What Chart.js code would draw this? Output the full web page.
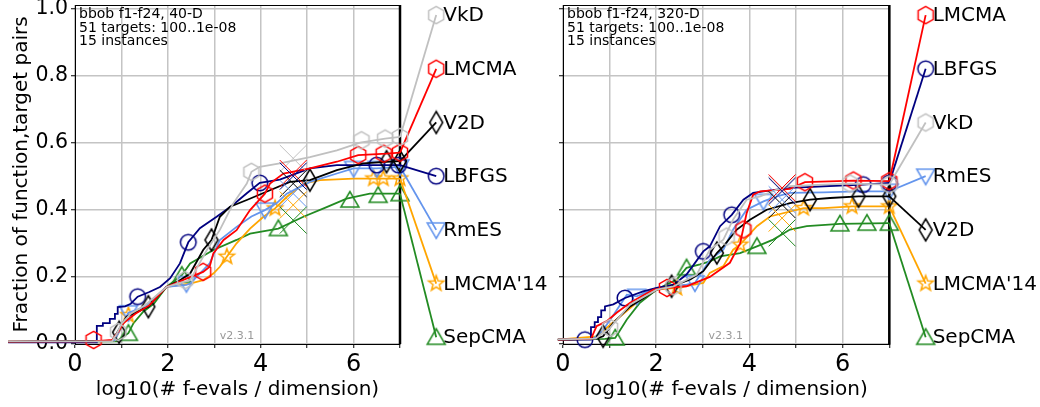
<!DOCTYPE html>
<html>
<head>
<meta charset="utf-8">
<script src="https://cdn.jsdelivr.net/npm/chart.js@4.4.1/dist/chart.umd.min.js"></script>
<style>
    html, body { margin: 0; padding: 0; background: #fff; }
    #wrap { position: relative; width: 1040px; height: 407px; overflow: hidden; }
    canvas { position: absolute; top: 0; }
    #c40 { left: 0; z-index: 2; }
    #c320 { left: 520px; z-index: 1; }
</style>
</head>
<body>
<div id="wrap">
    <canvas id="c40" width="560" height="407"></canvas>
    <canvas id="c320" width="520" height="407"></canvas>
</div>
<script>
const FONT = 'DejaVu Sans';

// algorithms, in a fixed order
const algNames = ['VkD', 'LMCMA', 'V2D', 'LBFGS', 'RmES', "LMCMA'14", 'SepCMA'];
const algColors = ['#c0c0c0', '#ff0000', '#000000', '#000080', '#6495ed', '#ffa500', '#228b22'];
const algMarkers = ['hexagon', 'hexagon', 'thinDiamond', 'circle', 'triangleDown', 'star', 'triangleUp'];

const xTickValues = [0, 1, 2, 3, 4, 5, 6, 7];
const yTickValues = [0, 0.2, 0.4, 0.6, 0.8, 1.0];

// label slots on the right of each panel (top to bottom)
const labelSlotY = [0.98, 0.82, 0.66, 0.5, 0.34, 0.18, 0.02];
const labelOrder40 = ['VkD', 'LMCMA', 'V2D', 'LBFGS', 'RmES', "LMCMA'14", 'SepCMA'];
const labelOrder320 = ['LMCMA', 'LBFGS', 'VkD', 'RmES', 'V2D', "LMCMA'14", 'SepCMA'];
const labelX = 7.78;

// ---------- 40-D ----------
const vkd40 = [[-1.44,0.008],[0.8,0.008],[0.9,0.03],[1.0,0.06],[1.2,0.09],[1.5,0.115],[1.97,0.17],[2.2,0.18],[2.48,0.19],[2.84,0.28],[3.12,0.34],[3.41,0.419],[3.7,0.478],[3.8,0.513],[3.98,0.528],[4.41,0.538],[5.06,0.557],[5.64,0.577],[6.14,0.6],[6.68,0.612],[7,0.617]];
const lmcma40 = [[-1.44,0.007],[0.4,0.008],[0.8,0.012],[0.95,0.04],[1.04,0.062],[1.3,0.09],[1.6,0.115],[1.97,0.17],[2.4,0.195],[2.76,0.215],[2.9,0.23],[2.98,0.27],[3.2,0.31],[3.48,0.339],[3.77,0.399],[4.09,0.448],[4.2,0.478],[4.49,0.508],[5.06,0.523],[5.64,0.543],[6.1,0.563],[6.71,0.567],[7,0.57]];
const v2d40 = [[-1.44,0.007],[0.8,0.01],[0.9,0.032],[1.11,0.081],[1.58,0.111],[1.97,0.17],[2.26,0.19],[2.48,0.21],[2.76,0.28],[2.94,0.31],[3.12,0.379],[3.34,0.409],[3.7,0.429],[4.2,0.458],[4.63,0.483],[5.06,0.488],[5.64,0.518],[6.21,0.538],[6.71,0.543],[7,0.545]];
const lbfgs40 = [[-1.44,0.005],[0.47,0.005],[0.47,0.054],[0.6,0.054],[0.6,0.062],[0.75,0.062],[0.75,0.075],[0.86,0.075],[0.86,0.09],[0.92,0.09],[0.92,0.11],[1.08,0.112],[1.2,0.12],[1.35,0.141],[1.6,0.155],[1.83,0.17],[2.05,0.196],[2.26,0.24],[2.44,0.303],[2.69,0.345],[3.05,0.379],[3.4,0.414],[3.7,0.449],[3.98,0.48],[4.41,0.49],[5.06,0.523],[5.64,0.533],[6.5,0.533],[7,0.533]];
const rmes40 = [[-1.44,0.007],[0.85,0.01],[1.0,0.05],[1.15,0.093],[1.5,0.11],[1.97,0.17],[2.4,0.176],[2.48,0.18],[2.9,0.24],[3.12,0.31],[3.48,0.349],[3.8,0.38],[4.09,0.399],[4.34,0.419],[4.56,0.448],[5.06,0.483],[5.64,0.508],[6.0,0.523],[6.5,0.523],[7,0.528]];
const lmcma1440 = [[-1.44,0.007],[0.85,0.01],[1.0,0.05],[1.15,0.086],[1.5,0.11],[1.97,0.17],[2.48,0.18],[2.76,0.19],[2.98,0.21],[3.12,0.23],[3.27,0.26],[3.48,0.3],[3.77,0.344],[4.06,0.379],[4.31,0.404],[4.56,0.438],[4.92,0.478],[5.28,0.488],[6.0,0.493],[7,0.493]];
const sepcma40 = [[-1.44,0.006],[0.9,0.008],[1.15,0.032],[1.26,0.062],[1.47,0.096],[1.7,0.12],[1.97,0.17],[2.3,0.205],[2.48,0.24],[2.98,0.28],[3.48,0.31],[3.77,0.329],[4.38,0.344],[4.92,0.379],[5.42,0.408],[5.85,0.433],[6.35,0.448],[7,0.448]];

const vkd40Marks = [[0.93,0.036],[2.37,0.19],[3.8,0.513],[6.17,0.607],[6.68,0.612],[7,0.617]];
const lmcma40Marks = [[0.4,0.012],[2.76,0.215],[4.09,0.448],[6.1,0.563],[6.65,0.567],[7,0.57]];
const v2d40Marks = [[0.95,0.035],[1.58,0.111],[2.94,0.31],[5.06,0.488],[6.71,0.543],[7,0.545]];
const lbfgs40Marks = [[1.35,0.141],[2.44,0.303],[3.98,0.48],[6.5,0.533],[6.97,0.533]];
const rmes40Marks = [[1.15,0.093],[2.4,0.18],[4.09,0.399],[6.0,0.523],[6.5,0.523],[7,0.528]];
const lmcma1440Marks = [[1.15,0.086],[3.27,0.26],[4.31,0.404],[6.43,0.493],[6.64,0.493],[7,0.493]];
const sepcma40Marks = [[1.15,0.032],[2.3,0.205],[4.38,0.344],[5.92,0.429],[6.53,0.443],[7,0.448]];

const crossX40 = 4.7;
const crossY40 = [0.553, 0.508, 0.478, 0.5, 0.448, 0.414, 0.369];

// ---------- 320-D ----------
const vkd320 = [[-0.11,0.014],[0.7,0.016],[1.01,0.048],[1.44,0.118],[2.01,0.162],[2.37,0.172],[2.87,0.207],[3.15,0.281],[3.44,0.311],[3.65,0.371],[3.94,0.43],[4.23,0.44],[4.59,0.46],[4.87,0.47],[5.59,0.475],[6.16,0.478],[7,0.475]];
const lmcma320 = [[-0.11,0.013],[0.6,0.015],[0.72,0.053],[0.94,0.068],[1.15,0.093],[1.44,0.123],[1.94,0.162],[2.23,0.167],[2.65,0.172],[3.15,0.2],[3.58,0.242],[3.8,0.3],[3.94,0.39],[4.08,0.445],[4.23,0.455],[4.87,0.462],[5.19,0.482],[6.23,0.487],[7,0.485]];
const v2d320 = [[-0.11,0.013],[0.7,0.015],[0.86,0.023],[1.08,0.063],[1.44,0.112],[2.01,0.162],[2.33,0.172],[2.73,0.192],[3.01,0.217],[3.3,0.271],[3.44,0.291],[3.73,0.341],[4.01,0.37],[4.37,0.4],[4.87,0.42],[5.3,0.43],[5.73,0.435],[6.34,0.44],[7,0.44]];
const lbfgs320 = [[-0.11,0.013],[0.6,0.013],[0.6,0.05],[0.68,0.05],[0.68,0.065],[0.75,0.065],[0.75,0.08],[0.82,0.08],[0.82,0.1],[0.9,0.1],[0.9,0.112],[1.08,0.118],[1.33,0.137],[1.72,0.157],[2.01,0.167],[2.37,0.177],[2.65,0.207],[3.01,0.276],[3.15,0.291],[3.37,0.351],[3.62,0.385],[3.87,0.43],[4.08,0.45],[4.3,0.455],[4.87,0.465],[5.59,0.47],[6.44,0.475],[7,0.48]];
const rmes320 = [[-0.11,0.013],[0.65,0.015],[0.85,0.04],[1.1,0.09],[1.37,0.147],[1.58,0.142],[2.01,0.167],[2.65,0.177],[2.83,0.182],[3.15,0.251],[3.44,0.281],[3.65,0.341],[3.94,0.4],[4.3,0.425],[4.59,0.44],[4.87,0.45],[5.59,0.452],[6.3,0.455],[7,0.455]];
const lmcma14320 = [[-0.11,0.013],[0.72,0.023],[1.15,0.073],[1.65,0.132],[2.01,0.162],[2.44,0.167],[3.01,0.182],[3.15,0.212],[3.44,0.232],[3.65,0.281],[3.8,0.296],[4.16,0.351],[4.44,0.38],[5.16,0.405],[5.59,0.405],[6.2,0.41],[7,0.41]];
const sepcma320 = [[-0.11,0.013],[0.9,0.015],[1.12,0.018],[1.37,0.073],[1.65,0.123],[2.01,0.162],[2.44,0.192],[2.65,0.227],[2.94,0.237],[3.15,0.246],[3.37,0.261],[3.8,0.271],[4.16,0.291],[4.51,0.311],[4.87,0.341],[5.23,0.351],[5.94,0.358],[7,0.36]];

const vkd320Marks = [[1.01,0.048],[2.37,0.172],[3.51,0.32],[6.16,0.478],[7,0.475]];
const lmcma320Marks = [[2.23,0.167],[3.87,0.341],[5.19,0.482],[6.23,0.487],[7,0.485]];
const v2d320Marks = [[0.86,0.023],[2.33,0.172],[3.3,0.271],[5.3,0.43],[6.34,0.44],[7,0.44]];
const lbfgs320Marks = [[0.47,0.013],[1.33,0.137],[3.01,0.276],[3.62,0.385],[6.44,0.475],[7,0.48]];
const rmes320Marks = [[1.58,0.142],[2.83,0.182],[4.3,0.425],[7,0.455]];
const lmcma14320Marks = [[2.44,0.167],[3.8,0.296],[5.16,0.405],[6.2,0.41],[7,0.41]];
const sepcma320Marks = [[1.12,0.018],[2.65,0.227],[4.16,0.291],[5.94,0.358],[6.52,0.36],[7,0.36]];

const crossX320 = 4.7;
const crossY320 = [0.46, 0.465, 0.415, 0.455, 0.43, 0.375, 0.331];

// marker pictures (hollow, like matplotlib with no face colour)
function markerCanvas(shape, color) {
    const S = 26;
    const c = document.createElement('canvas');
    c.width = S; c.height = S;
    const g = c.getContext('2d');
    const m = S / 2;
    g.strokeStyle = color;
    g.lineWidth = 1.5;
    g.beginPath();
    if (shape === 'circle') {
        g.arc(m, m, 7.8, 0, Math.PI * 2);
    } else if (shape === 'hexagon') {
        for (let i = 0; i < 6; i++) {
            const a = -Math.PI / 2 + i * Math.PI / 3;
            const px = m + 8.7 * Math.cos(a), py = m + 8.7 * Math.sin(a);
            if (i === 0) g.moveTo(px, py); else g.lineTo(px, py);
        }
        g.closePath();
    } else if (shape === 'thinDiamond') {
        g.moveTo(m, m - 11); g.lineTo(m + 6.5, m); g.lineTo(m, m + 11); g.lineTo(m - 6.5, m);
        g.closePath();
    } else if (shape === 'triangleUp') {
        g.moveTo(m, m - 8.5); g.lineTo(m + 9, m + 7); g.lineTo(m - 9, m + 7);
        g.closePath();
    } else if (shape === 'triangleDown') {
        g.moveTo(m, m + 8.5); g.lineTo(m + 9, m - 7); g.lineTo(m - 9, m - 7);
        g.closePath();
    } else if (shape === 'star') {
        for (let i = 0; i < 10; i++) {
            const r = i % 2 ? 3.3 : 8;
            const a = -Math.PI / 2 + i * Math.PI / 5;
            const px = m + r * Math.cos(a), py = m + r * Math.sin(a);
            if (i === 0) g.moveTo(px, py); else g.lineTo(px, py);
        }
        g.closePath();
    }
    g.stroke();
    return c;
}

const markerImgs = algMarkers.map((s, i) => markerCanvas(s, algColors[i]));

function toXY(pts) {
    return pts.map(p => ({ x: p[0], y: p[1] }));
}

function makeDecor(p) {
    return {
        id: 'decor' + p.dim,
        beforeDatasetsDraw(chart) {
            const ctx = chart.ctx;
            const a = chart.chartArea;
            const xs = chart.scales.x;
            ctx.save();
            ctx.strokeStyle = '#000';
            ctx.lineWidth = 1;
            ctx.beginPath();
            ctx.moveTo(a.left, a.top + 0.5);
            ctx.lineTo(a.right, a.top + 0.5);
            ctx.stroke();
            // last budget line at x = 7
            ctx.lineWidth = 2.5;
            ctx.beginPath();
            ctx.moveTo(xs.getPixelForValue(7), a.top);
            ctx.lineTo(xs.getPixelForValue(7), a.bottom);
            ctx.stroke();
            ctx.restore();
        },
        afterDatasetsDraw(chart) {
            const ctx = chart.ctx;
            const xs = chart.scales.x, ys = chart.scales.y;
            const a = chart.chartArea;
            ctx.save();
            // end markers and labels
            p.labelOrder.forEach((name, k) => {
                const i = algNames.indexOf(name);
                const px = xs.getPixelForValue(labelX);
                const py = ys.getPixelForValue(labelSlotY[k]);
                if (Chart.helpers && Chart.helpers.drawPoint) {
                    Chart.helpers.drawPoint(ctx, { pointStyle: markerImgs[i], rotation: 0, radius: 8, borderWidth: 1.5 }, px, py);
                } else {
                    ctx.drawImage(markerImgs[i], px - 13, py - 13);
                }
                ctx.fillStyle = '#000';
                ctx.font = '20px "' + FONT + '"';
                ctx.textAlign = 'left';
                ctx.textBaseline = 'middle';
                ctx.fillText(name, px + 7, py + 1);
            });
            // info box
            ctx.fillStyle = '#000';
            ctx.font = '14px "' + FONT + '"';
            ctx.textAlign = 'left';
            ctx.textBaseline = 'middle';
            p.infoLines.forEach((t, k) => {
                ctx.fillText(t, a.left + 4, a.top + 9.5 + k * 13.5);
            });
            // version stamp
            ctx.fillStyle = '#999999';
            ctx.font = '11px "' + FONT + '"';
            ctx.fillText('v2.3.1', xs.getPixelForValue(3.12), ys.getPixelForValue(0.024));
            ctx.restore();
        }
    };
}

function buildPanel(canvasId, p) {
    const datasets = [];
    // the X marks
    datasets.push({
        data: p.crossY.map(y => ({ x: p.crossX, y: y })),
        showLine: false,
        pointStyle: 'crossRot',
        pointRadius: 19,
        pointBorderWidth: 1,
        pointBorderColor: algColors,
        clip: false
    });
    p.curves.forEach((pts, i) => {
        const last = pts[pts.length - 1];
        const slot = p.labelOrder.indexOf(algNames[i]);
        // curve
        datasets.push({
            data: toXY(pts),
            showLine: true,
            borderColor: algColors[i],
            borderWidth: 1.8,
            pointRadius: 0,
            tension: 0,
            clip: false
        });
        // line to the label on the right
        datasets.push({
            data: [{ x: 7, y: last[1] }, { x: labelX, y: labelSlotY[slot] }],
            showLine: true,
            borderColor: algColors[i],
            borderWidth: 1.8,
            pointRadius: 0,
            clip: false
        });
        // markers on the curve
        datasets.push({
            data: toXY(p.marks[i]),
            showLine: false,
            pointStyle: markerImgs[i],
            pointRadius: 8,
            clip: false
        });
    });

    const gridColor = '#c4c4c4';
    return new Chart(document.getElementById(canvasId), {
        type: 'scatter',
        data: { datasets: datasets },
        options: {
            responsive: false,
            devicePixelRatio: 1,
            animation: false,
            events: [],
            layout: { autoPadding: false, padding: { left: 0, right: p.padRight, top: 5, bottom: 0 } },
            plugins: { legend: { display: false }, tooltip: { enabled: false } },
            scales: {
                x: {
                    type: 'linear',
                    min: 0,
                    max: 7,
                    afterBuildTicks: s => { s.ticks = xTickValues.map(v => ({ value: v })); },
                    afterFit: s => { s.height = 63; s.paddingLeft = 0; s.paddingRight = 0; },
                    ticks: {
                        autoSkip: false,
                        maxRotation: 0,
                        padding: 2,
                        color: '#000',
                        font: { family: FONT, size: 24 },
                        callback: v => (v % 2 === 0 ? String(v) : '')
                    },
                    grid: { color: gridColor, lineWidth: 1.5, tickLength: 4, tickColor: '#000', tickWidth: 1 },
                    border: { display: true, color: '#000', width: 1 },
                    title: {
                        display: true,
                        text: 'log10(# f-evals / dimension)',
                        color: '#000',
                        font: { family: FONT, size: 20 },
                        padding: { top: 0, bottom: 5 }
                    }
                },
                y: {
                    type: 'linear',
                    min: 0,
                    max: 1.01,
                    afterBuildTicks: s => { s.ticks = yTickValues.map(v => ({ value: v })); },
                    afterFit: s => { s.width = p.yWidth; s.paddingTop = 0; s.paddingBottom = 0; },
                    ticks: {
                        display: p.showYLabels,
                        padding: 3,
                        color: '#000',
                        font: { family: FONT, size: 20.5 },
                        callback: v => v.toFixed(1)
                    },
                    grid: { color: gridColor, lineWidth: 1.5, tickLength: 4, tickColor: '#000', tickWidth: 1 },
                    border: { display: true, color: '#000', width: 1 },
                    title: {
                        display: p.showYLabels,
                        text: 'Fraction of function,target pairs',
                        color: '#000',
                        font: { family: FONT, size: 20 },
                        padding: { top: 10, bottom: 0 }
                    }
                }
            }
        },
        plugins: [makeDecor(p)]
    });
}

buildPanel('c40', {
    dim: 40,
    curves: [vkd40, lmcma40, v2d40, lbfgs40, rmes40, lmcma1440, sepcma40],
    marks: [vkd40Marks, lmcma40Marks, v2d40Marks, lbfgs40Marks, rmes40Marks, lmcma1440Marks, sepcma40Marks],
    crossX: crossX40,
    crossY: crossY40,
    labelOrder: labelOrder40,
    infoLines: ['bbob f1-f24, 40-D', '51 targets: 100..1e-08', '15 instances'],
    padRight: 160,
    yWidth: 75,
    showYLabels: true
});

buildPanel('c320', {
    dim: 320,
    curves: [vkd320, lmcma320, v2d320, lbfgs320, rmes320, lmcma14320, sepcma320],
    marks: [vkd320Marks, lmcma320Marks, v2d320Marks, lbfgs320Marks, rmes320Marks, lmcma14320Marks, sepcma320Marks],
    crossX: crossX320,
    crossY: crossY320,
    labelOrder: labelOrder320,
    infoLines: ['bbob f1-f24, 320-D', '51 targets: 100..1e-08', '15 instances'],
    padRight: 150.7,
    yWidth: 43,
    showYLabels: false
});
</script>
</body>
</html>
